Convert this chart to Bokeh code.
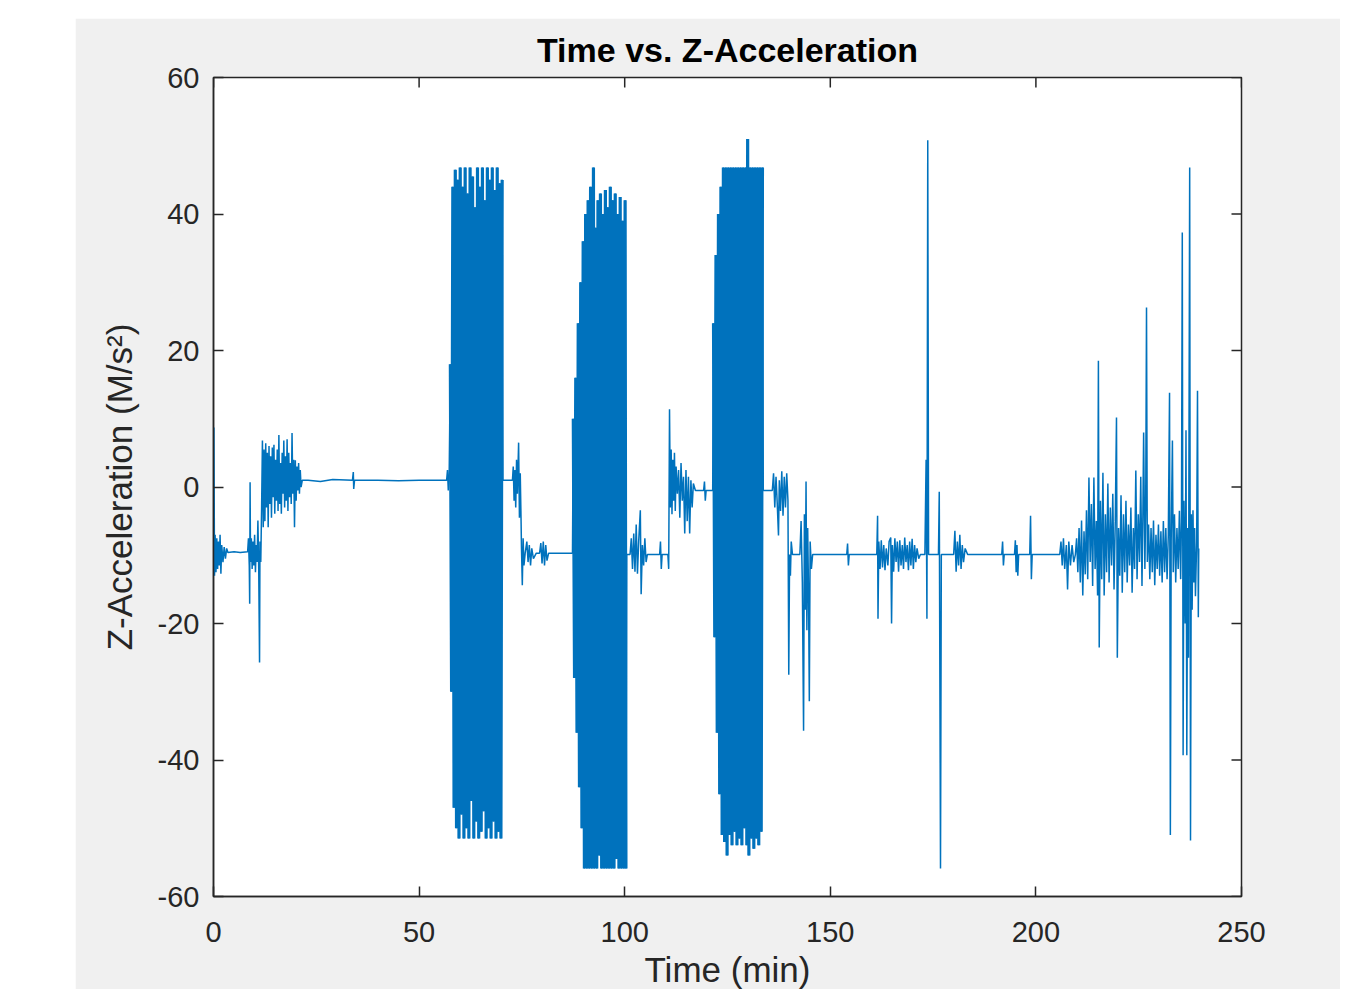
import math
from bokeh.plotting import figure
from bokeh.models import Range1d, FixedTicker, Spacer
from bokeh.layouts import column, row
from bokeh.embed import file_html
from bokeh.resources import INLINE

title_text = "Time vs. Z-Acceleration"
x_label = "Time (min)"
y_label = "Z-Acceleration (M/s²)"
x_ticks = [0, 50, 100, 150, 200, 250]
x_tick_labels = ["0", "50", "100", "150", "200", "250"]
y_ticks = [-60, -40, -20, 0, 20, 40, 60]
y_tick_labels = ["-60", "-40", "-20", "0", "20", "40", "60"]

# (time in min, z-acceleration in m/s^2), segment by segment
seg_start = [
    (0.0, -9.7), (0.1, 8.7), (0.25, -13), (0.4, -7), (0.6, -12.5), (0.8, -7.5), (1.0, -12),
    (1.2, -8), (1.4, -11.5), (1.6, -7), (1.8, -12.7), (2.0, -8.5), (2.3, -11), (2.6, -8.8),
    (2.9, -10.5), (3.2, -9), (3.5, -9.6), (5.0, -9.5), (6.5, -9.6), (8.3, -9.5), (8.5, -7.5),
    (8.7, -11.5), (8.8, -17.1), (8.9, 0.7), (9.0, -11), (9.2, -7.5), (9.4, -12), (9.6, -8),
    (9.8, -11.5), (10.0, -7), (10.2, -12.5), (10.4, -8.5), (10.6, -11), (10.8, -4.9),
    (11.0, -12), (11.2, -25.7), (11.3, -8), (11.5, -11), (11.7, -3), (11.9, 6.8),
    (12.1, -5.9), (12.3, 5.5), (12.5, -5), (12.7, 6.4), (12.9, -3), (13.1, 5.0), (13.3, -5.9),
    (13.5, 6.0), (13.7, -2.5), (13.9, 4.5), (14.1, -4.5), (14.3, 5.8), (14.5, -1.5),
    (14.7, 6.2), (14.9, -3.9), (15.1, 4.0), (15.3, -2.0), (15.5, 5.5), (15.7, -3.5),
    (15.9, 7.6), (16.1, -2.5), (16.3, 3.5), (16.5, -3.9), (16.7, 5.0), (16.9, -1.0),
    (17.1, 6.8), (17.3, -3.0), (17.5, 4.5), (17.7, -2.0), (17.9, 7.0), (18.1, -3.5),
    (18.3, 5.0), (18.5, -1.5), (18.7, 3.5), (18.9, -2.5), (19.1, 7.9), (19.3, -1.0),
    (19.5, 4.0), (19.7, -5.9), (19.9, 3.9), (20.1, -2.0), (20.3, 3.0), (20.5, -0.5),
    (20.7, 3.5), (20.9, -1.0), (21.1, 2.5), (21.3, 0.0), (21.6, 1.0),
]
seg_rest1 = [
    (23.0, 1.0), (26.0, 0.8), (29.0, 1.1), (33.8, 1.0), (34.0, 2.2), (34.1, -0.3),
    (34.3, 1.0), (40.0, 1.0), (45.0, 0.9), (50.0, 1.0), (56.7, 1.0), (56.9, 2.5),
    (57.1, -0.5), (57.3, 1.0),
]
burst1 = [
    (57.6, 18), (57.9, -30), (58.2, 44), (58.5, -47), (58.8, 46.5), (59.1, -50), (59.4, 45),
    (59.7, -51.5), (60.0, 46.8), (60.3, -48), (60.6, 44), (60.9, -51.5), (61.2, 46.8),
    (61.5, -50), (61.8, 43), (62.1, -51.5), (62.4, 46.8), (62.7, -46), (63.0, 45.5),
    (63.3, -51.5), (63.6, 41), (63.9, -49), (64.2, 46.8), (64.5, -51.5), (64.8, 44),
    (65.1, -50.5), (65.4, 46.8), (65.7, -47.5), (66.0, 42), (66.3, -51.5), (66.6, 46.8),
    (66.9, -50), (67.2, 45), (67.5, -51.5), (67.8, 46.8), (68.1, -49), (68.4, 43.5),
    (68.7, -51.5), (69.0, 46.8), (69.3, -50.5), (69.6, 44.5), (69.9, -51.5), (70.2, 45),
]
seg_rest2 = [
    (70.4, 1.0), (72.7, 1.0), (72.9, 3.0), (73.1, -2.0), (73.3, 2.5), (73.5, -3.0),
    (73.7, 4.0), (73.9, -1.0), (74.2, 6.5), (74.4, -4.5), (74.6, 2.0), (74.8, -5.0),
    (74.9, -9.0), (75.1, -14.4), (75.3, -7.5), (75.5, -11.5), (75.8, -9.7), (76.2, -8.0),
    (76.5, -11.0), (76.8, -8.5), (77.1, -11.5), (77.4, -9.0), (77.8, -10.5), (78.5, -9.7),
    (79.3, -9.7), (79.6, -8.2), (79.9, -11.2), (80.2, -8.0), (80.5, -11.5), (80.8, -8.5),
    (81.1, -10.8), (81.5, -9.7), (84.0, -9.7), (87.3, -9.7),
]
burst2 = [
    (87.5, 10), (87.8, -28), (88.1, 16), (88.4, -36), (88.7, 24), (89.0, -44), (89.3, 30),
    (89.6, -50), (89.9, 36), (90.2, -55.9), (90.5, 40), (90.8, -55.9), (91.1, 42),
    (91.4, -55.9), (91.7, 44), (92.0, -55.9), (92.4, 46.8), (92.6, -55.9), (92.9, 38),
    (93.2, -55.9), (93.5, 42), (93.8, -54), (94.1, 43), (94.4, -55.9), (94.7, 40),
    (95.0, -55.9), (95.3, 43.5), (95.6, -55.9), (95.9, 41), (96.2, -55.9), (96.5, 44),
    (96.8, -55.9), (97.1, 42), (97.4, -55.9), (97.7, 43), (98.0, -54.5), (98.3, 40),
    (98.6, -55.9), (98.9, 42.5), (99.2, -55.9), (99.5, 39), (99.8, -55.9), (100.1, 42),
    (100.3, -55.9),
]
seg_rest3 = [
    (100.5, -9.9), (101.3, -9.9), (101.6, -7.5), (101.9, -12), (102.2, -6.8), (102.5, -12.4),
    (102.8, -5.5), (103.1, -12.7), (103.4, -8), (103.8, -3.4), (104.0, -15.7), (104.3, -8.5),
    (104.6, -11.5), (104.9, -7.5), (105.2, -11), (105.5, -9.9), (107.5, -9.9), (108.5, -9.9),
    (108.7, -8), (108.9, -12), (109.1, -9.9), (110.5, -9.9), (110.7, -12), (110.9, 11.4),
    (111.1, -3), (111.3, 5.5), (111.5, -4), (111.7, 4), (111.9, -2), (112.1, 5),
    (112.3, -3.5), (112.5, 3), (112.8, -1), (113.1, 2.5), (113.4, -4.5), (113.7, 3.5),
    (114.0, -2), (114.3, 1.5), (114.6, -6.8), (114.9, 2.5), (115.2, -5), (115.5, 1.5),
    (115.8, -6.8), (116.1, 1), (116.4, -3), (116.7, 0.5), (117.2, -0.5), (119.2, -0.5),
    (119.4, 0.8), (119.6, -2), (119.8, -0.5), (121.4, -0.5),
]
burst3 = [
    (121.6, 24), (121.9, -22), (122.2, 34), (122.5, -36), (122.8, 40), (123.1, -45),
    (123.4, 44), (123.7, -51), (124.0, 46.8), (124.3, -52), (124.6, 46.8), (124.9, -54),
    (125.2, 46.8), (125.5, -51), (125.8, 46.8), (126.1, -52.5), (126.4, 46.8), (126.7, -50.5),
    (127.0, 46.8), (127.3, -52.5), (127.6, 46.8), (127.9, -51.5), (128.2, 46.8), (128.5, -52.5),
    (128.8, 46.8), (129.1, -50), (129.4, 46.8), (129.7, -52.5), (129.9, 51), (130.2, -54),
    (130.5, 46.8), (130.8, -51.5), (131.1, 46.8), (131.4, -53), (131.7, 46.8), (132.0, -51.5),
    (132.3, 46.8), (132.6, -52.5), (132.9, 46.8), (133.2, -50.5), (133.5, 46.8),
]
seg_rest4 = [
    (133.7, -0.5), (135.9, -0.5), (136.2, 2), (136.5, -3), (136.8, 1.5), (137.1, -2.5),
    (137.4, -7.1), (137.6, 1), (137.9, -3.5), (138.2, 2.3), (138.5, -4.2), (138.8, 1.5),
    (139.1, -3), (139.4, 2), (139.7, -2), (139.9, -27.5), (140.1, -9.9), (140.3, -13),
    (140.5, -8), (140.8, -9.9), (142.6, -9.9), (142.9, -5), (143.2, -14), (143.5, -35.7),
    (143.7, -4), (143.9, -18), (144.1, 0.8), (144.3, -21), (144.5, -6), (144.7, -15),
    (144.9, -31.4), (145.1, -8), (145.4, -12), (145.7, -9.9), (154.0, -9.9), (154.2, -8.3),
    (154.4, -11.5), (154.6, -9.9), (161.3, -9.9), (161.5, -4.2), (161.6, -19.3), (161.8, -8),
    (162.1, -12), (162.4, -7.8), (162.7, -11.8), (163.0, -8.5), (163.3, -12.2), (163.6, -9),
    (164.0, -11.5), (164.3, -8), (164.7, -7.4), (164.9, -20), (165.1, -8.5), (165.4, -12.4),
    (165.7, -7.5), (166.0, -11), (166.3, -8), (166.6, -12.4), (166.9, -7.8), (167.2, -11.5),
    (167.5, -8.5), (167.8, -12), (168.1, -7.4), (168.4, -11), (168.7, -8.5), (169.0, -12.2),
    (169.3, -8), (169.6, -11.5), (169.9, -7.6), (170.2, -12), (170.5, -8.5), (170.8, -11),
    (171.1, -9), (171.5, -10.5), (171.9, -9.9), (173.0, -9.9), (173.3, 4), (173.5, -19.3),
    (173.7, 50.8), (173.9, -9.9), (176.3, -9.9), (176.5, -0.7), (176.8, -55.9), (177.0, -9.9),
    (180.0, -9.9), (180.3, -6.4), (180.6, -12.4), (180.9, -8), (181.2, -11.5), (181.5, -7),
    (181.8, -12), (182.1, -8.5), (182.4, -11), (182.8, -9), (183.4, -9.9), (191.7, -9.9),
    (191.9, -8), (192.1, -11.5), (192.3, -9.9), (194.8, -9.9), (195.0, -7.8), (195.2, -12.5),
    (195.4, -8.5), (195.6, -13), (195.8, -9.9), (198.5, -9.9), (198.7, -4.2), (198.9, -13.5),
    (199.1, -9.9), (205.8, -9.9), (206.1, -8), (206.4, -11.5), (206.7, -7.5), (207.0, -12),
    (207.4, -8.5), (207.7, -15), (208.0, -8), (208.4, -11.5), (208.8, -8.5), (209.2, -11),
    (209.6, -9.9),
]
seg_end = [
    (209.9, -7.5), (210.2, -12.5), (210.5, -6), (210.8, -14), (211.1, -4.9), (211.4, -15.9),
    (211.7, -6.5), (212.0, -12.8), (212.3, -3.4), (212.6, -13.5), (212.9, 1.4), (213.2, -11),
    (213.5, -2.5), (213.8, -14.5), (214.1, 1.4), (214.4, -12), (214.7, -5), (215.0, -15.9),
    (215.2, 18.5), (215.4, -23.5), (215.7, -2), (216.0, -13.5), (216.3, 2.1), (216.6, -15.9),
    (216.9, -4), (217.2, -12.5), (217.5, 0.5), (217.8, -14), (218.1, -3), (218.4, -11.5),
    (218.7, -1), (219.0, -15), (219.3, -5), (219.6, 10.2), (219.8, -25), (220.1, -6),
    (220.4, -13), (220.7, -1.2), (221.0, -15.5), (221.3, -4), (221.6, -12.5), (221.9, -2),
    (222.2, -14), (222.5, -5.5), (222.8, -11.5), (223.1, -3), (223.4, -15.5), (223.7, -6),
    (224.0, -12), (224.3, 2.4), (224.6, -13.5), (224.9, -4), (225.2, -11), (225.5, 1.5),
    (225.8, -14.5), (226.0, -5), (226.2, 8.0), (226.5, -12), (226.7, -3), (226.9, 26.3),
    (227.1, -11), (227.4, -5.5), (227.7, -13.5), (228.0, -6), (228.3, -12.5), (228.6, -4.9),
    (228.9, -14.4), (229.2, -7), (229.5, -12), (229.8, -5.5), (230.1, -13), (230.4, -6.5),
    (230.7, -14), (231.0, -5), (231.3, -12.5), (231.6, -6), (231.9, -13.5), (232.2, -7),
    (232.5, 13.8), (232.7, -51), (232.9, -8), (233.2, 6.8), (233.4, -12.5), (233.7, -4),
    (234.0, -14), (234.3, -6), (234.6, -12), (234.9, -3.5), (235.2, -13.5), (235.4, -5),
    (235.6, 37.3), (235.8, -39.3), (236.0, -2), (236.3, -20), (236.5, 8.3), (236.7, -39.3),
    (236.9, -6), (237.1, -25), (237.4, 46.8), (237.6, -51.8), (237.8, -4), (238.0, -18),
    (238.2, -3.4), (238.4, -14), (238.6, -6), (238.8, -16), (239.1, -8), (239.3, 14.1),
    (239.5, -19.1), (239.6, -9),
]

segments = [seg_start, seg_rest1, burst1, seg_rest2, burst2, seg_rest3, burst3, seg_rest4, seg_end]
t = [pt[0] for s in segments for pt in s]
z = [pt[1] for s in segments for pt in s]

FONT = "Liberation Sans"
AX = "#262626"
LINE = "#0072BD"
x_range = Range1d(0, 250)
y_range = Range1d(-60, 60)

p = figure(
    frame_width=1028, frame_height=819,
    x_range=x_range, y_range=y_range,
    output_backend="svg", toolbar_location=None,
    min_border_left=138, min_border_right=99, min_border_top=59, min_border_bottom=93,
    background_fill_color="white", border_fill_color="#f0f0f0",
    outline_line_color=AX, outline_line_width=1.5,
)
p.line(t, z, line_color=LINE, line_width=1.5)
# the dense bursts are drawn a little heavier so that they read as solid bands
for b in (burst1, burst2, burst3):
    p.line([pt[0] for pt in b], [pt[1] for pt in b], line_color=LINE, line_width=3.2)

p.title.text = title_text
p.title.align = "center"
p.title.text_font = FONT
p.title.text_font_size = "34px"
p.title.text_font_style = "bold"
p.title.text_color = "#000000"
p.title.standoff = 18

p.xgrid.visible = False
p.ygrid.visible = False


def style_axis(ax, ticks, labels):
    ax.ticker = FixedTicker(ticks=ticks)
    ax.major_label_overrides = {v: s for v, s in zip(ticks, labels)}
    ax.major_tick_in = 10
    ax.major_tick_out = 0
    ax.minor_tick_in = 0
    ax.minor_tick_out = 0
    ax.axis_line_color = AX
    ax.axis_line_width = 1.5
    ax.major_tick_line_color = AX
    ax.major_tick_line_width = 1.5
    ax.major_label_text_font = FONT
    ax.major_label_text_color = AX
    ax.major_label_text_font_size = "29px"
    ax.axis_label_text_font = FONT
    ax.axis_label_text_font_size = "35px"
    ax.axis_label_text_font_style = "normal"
    ax.axis_label_text_color = AX


xa = p.xaxis[0]
ya = p.yaxis[0]
style_axis(xa, x_ticks, x_tick_labels)
style_axis(ya, y_ticks, y_tick_labels)
xa.major_label_standoff = 25
ya.major_label_standoff = 14
xa.axis_label = x_label
ya.axis_label = y_label
xa.axis_label_standoff = 5
ya.axis_label_standoff = 16

# mirrored inward ticks on the top and right edges of the box
p.ray(x=x_ticks, y=[y_range.end] * len(x_ticks), length=10, length_units="screen",
      angle=-math.pi / 2, line_color=AX, line_width=1.5)
p.ray(x=[x_range.end] * len(y_ticks), y=y_ticks, length=10, length_units="screen",
      angle=math.pi, line_color=AX, line_width=1.5)

layout = column(Spacer(width=10, height=18), row(Spacer(width=75, height=10), p))

open("out.html", "w").write(file_html(layout, INLINE))
